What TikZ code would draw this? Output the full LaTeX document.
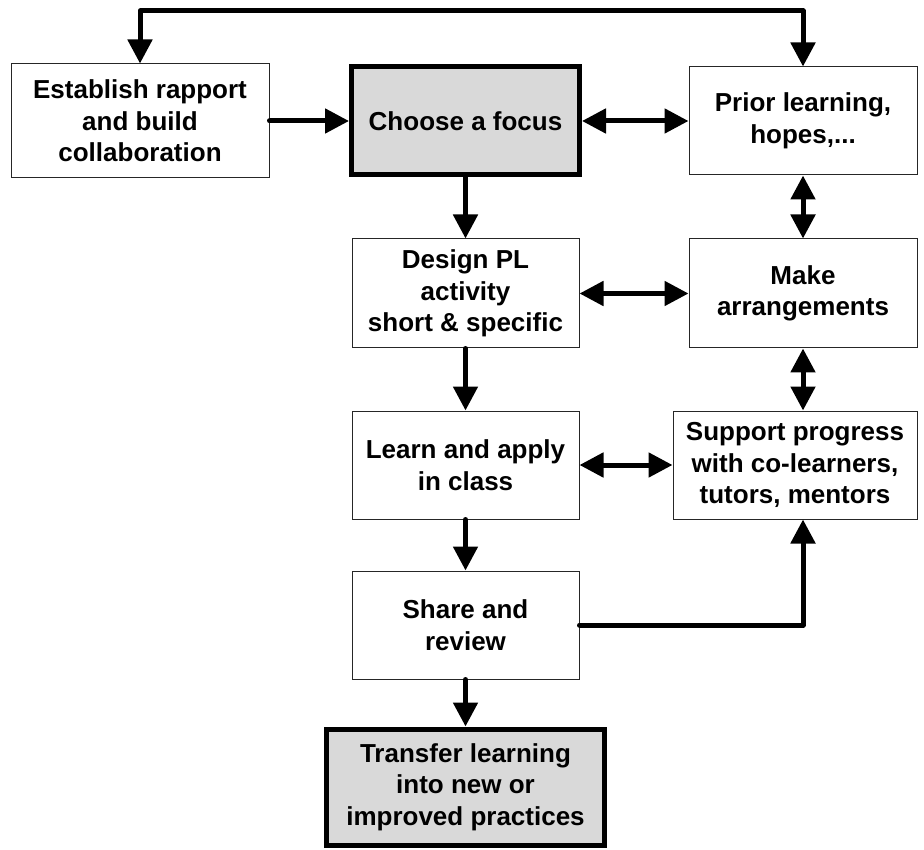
\documentclass[tikz,border=0pt]{standalone}
\usepackage{fontspec}
\setmainfont{Liberation Sans}
\usetikzlibrary{arrows.meta}
\definecolor{boxgray}{RGB}{217,217,217}
\tikzset{
  stepbox/.style={draw=black!85, line width=1pt, fill=white, align=center,
    inner sep=0pt, font=\bfseries\fontsize{26}{31.5}\selectfont},
  keybox/.style={stepbox, draw=black, line width=5pt, fill=boxgray},
  tip/.tip={Triangle[length=24pt,width=24pt]},
  link/.style={line width=5pt, line cap=round, line join=round, -tip},
  twoway/.style={line width=5pt, line cap=round, line join=round, tip-tip},
}
\begin{document}
\begin{tikzpicture}[x=1pt, y=-1pt]
  \useasboundingbox (0,0) rectangle (924,850);

  % process boxes
  \node[stepbox, minimum width=258pt, minimum height=114pt] (est) at (140,121)
    {Establish rapport\\and build\\collaboration};
  \node[keybox, minimum width=228pt, minimum height=108pt] (choose) at (465.5,121)
    {Choose a focus};
  \node[stepbox, minimum width=228pt, minimum height=108pt] (prior) at (803,121)
    {Prior learning,\\hopes,...};
  \node[stepbox, minimum width=227pt, minimum height=109pt] (design) at (465.5,293.5)
    {Design PL\\activity\\short \& specific};
  \node[stepbox, minimum width=228pt, minimum height=109pt] (make) at (803,293.5)
    {Make\\arrangements};
  \node[stepbox, minimum width=227pt, minimum height=108pt] (learn) at (465.5,465)
    {Learn and apply\\in class};
  \node[stepbox, minimum width=244pt, minimum height=108pt] (support) at (795,465)
    {Support progress\\with co-learners,\\tutors, mentors};
  \node[stepbox, minimum width=227pt, minimum height=108pt] (share) at (465.5,625)
    {Share and\\review};
  \node[keybox, minimum width=278pt, minimum height=116pt] (transfer) at (465.5,787)
    {Transfer learning\\into new or\\improved practices};

  % loop over the top
  \coordinate (loopL) at (140,11);
  \coordinate (loopR) at (803,11);
  \draw[twoway] (est.north) -- (loopL) -- (loopR) -- (prior.north);

  % connectors
  \draw[link] (est) -- (choose);
  \draw[twoway] (choose) -- (prior);
  \draw[link] (choose) -- (design);
  \draw[twoway] (prior) -- (make);
  \draw[twoway] (design) -- (make);
  \draw[link] (design) -- (learn);
  \draw[twoway] (make) -- (make |- support.north);
  \draw[twoway] (learn) -- (support);
  \draw[link] (learn) -- (share);
  \draw[link] (share.east) -| (make |- support.south);
  \draw[link] (share) -- (transfer);
\end{tikzpicture}
\end{document}
